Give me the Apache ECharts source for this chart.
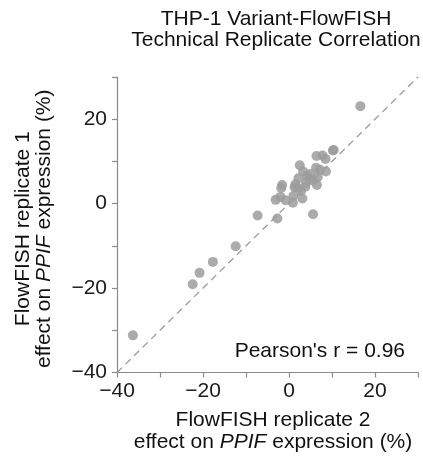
<!DOCTYPE html>
<html>
<head>
<meta charset="utf-8">
<script src="https://cdn.jsdelivr.net/npm/echarts@6/dist/echarts.min.js"></script>
<style>html,body{margin:0;padding:0;background:#fff}#c{width:423px;height:458px}</style>
</head>
<body>
<div id="c"></div>
<script>
const titleLines = ['THP-1 Variant-FlowFISH', 'Technical Replicate Correlation'];
const xNameLines = ['FlowFISH replicate 2', 'effect on ', 'PPIF', ' expression (%)'];
const yNameLines = ['FlowFISH replicate 1', 'effect on ', 'PPIF', ' expression (%)'];
const annotation = "Pearson's r = 0.96";
const axisMin = -40, axisMax = 30, tickStep = 10, labelStep = 20;
// [replicate 2 effect, replicate 1 effect]
const rep2 = [16.6, -36.3, -22.4, -20.8, -17.7, -12.4, -7.3, -2.7, 5.6, -3.1, -2.0, -1.6, -1.8, -0.8, 0.9, 1.0, 1.3, 3.1, 2.5, 3.3, 2.2, 2.8, 4.2, 4.8, 6.4, 7.8, 8.5, 10.2, 10.4, 6.3, 7.2, 8.6, 6.7, 6.5, 5.5, 4.0, 2.0, 1.5, 5.0, 3.8];
const rep1 = [23.1, -31.2, -19.1, -16.4, -13.8, -10.1, -2.8, -3.5, -2.5, 0.9, 1.6, 4.4, 3.7, 0.8, 0.2, 1.8, 3.9, 1.2, 9.1, 7.6, 6.0, 3.0, 6.5, 5.9, 11.3, 11.4, 10.6, 12.6, 12.7, 8.5, 8.0, 7.6, 6.3, 4.4, 5.5, 5.0, 3.7, 4.6, 7.0, 4.0];
const identityLine = [[axisMin, axisMin], [axisMax, axisMax]];

const points = rep2.map((v, i) => [v, rep1[i]]);
const FONT = 'Liberation Sans, Arial, sans-serif';
const FS = 21;
const fmt = v => (v % labelStep === 0 ? String(v).replace('-', '\u2212') : '');

const chart = echarts.init(document.getElementById('c'), null, {renderer: 'canvas'});
const axisCommon = {
  type: 'value', min: axisMin, max: axisMax, interval: tickStep,
  splitLine: {show: false},
  axisLine: {show: true, onZero: false, lineStyle: {color: '#8a8a8a', width: 1.2}},
  axisTick: {show: true, inside: false, length: 5, lineStyle: {color: '#8a8a8a', width: 1.2}},
  axisLabel: {formatter: fmt, color: '#1a1a1a', fontSize: FS, fontFamily: FONT, showMaxLabel: true, showMinLabel: true},
  nameLocation: 'middle'
};
chart.setOption({
  animation: false,
  title: {
    text: titleLines.join('\n'),
    left: 271, top: 4, textAlign: 'center',
    textStyle: {fontSize: FS, fontWeight: 'normal', color: '#111', fontFamily: FONT, lineHeight: 21}
  },
  grid: {left: 117, right: 5, top: 77, bottom: 81, containLabel: false},
  xAxis: Object.assign({}, axisCommon, {
    axisLabel: Object.assign({}, axisCommon.axisLabel, {margin: 8}),
    name: '{a|' + xNameLines[0] + '}\n{a|' + xNameLines[1] + '}{i|' + xNameLines[2] + '}{a|' + xNameLines[3] + '}',
    nameGap: 37,
    nameTextStyle: {
      padding: [0, 0, 0, 11],
      rich: {
        a: {fontSize: FS, fontFamily: FONT, color: '#111', lineHeight: 22},
        i: {fontSize: FS, fontFamily: FONT, color: '#111', lineHeight: 22, fontStyle: 'italic'}
      }
    }
  }),
  yAxis: Object.assign({}, axisCommon, {
    axisLabel: Object.assign({}, axisCommon.axisLabel, {margin: 10}),
    name: '{a|' + yNameLines[0] + '}\n{a|' + yNameLines[1] + '}{i|' + yNameLines[2] + '}{a|' + yNameLines[3] + '}',
    nameGap: 62, nameRotate: 90,
    nameTextStyle: {
      padding: [0, 8, 0, 0],
      rich: {
        a: {fontSize: FS, fontFamily: FONT, color: '#111', lineHeight: 21},
        i: {fontSize: FS, fontFamily: FONT, color: '#111', lineHeight: 21, fontStyle: 'italic'}
      }
    }
  }),
  graphic: [{
    type: 'text', right: 18, top: 341,
    style: {text: annotation, fontSize: FS, fontFamily: FONT, fill: '#111'}
  }],
  series: [{
    type: 'line', data: identityLine, symbol: 'none', silent: true,
    lineStyle: {color: '#9a9a9a', width: 1.3, type: [7, 5]}, z: 1
  }, {
    type: 'scatter', data: points, symbolSize: 10,
    itemStyle: {color: '#9c9c9c', opacity: 0.85}, z: 2
  }]
});
</script>
</body>
</html>
